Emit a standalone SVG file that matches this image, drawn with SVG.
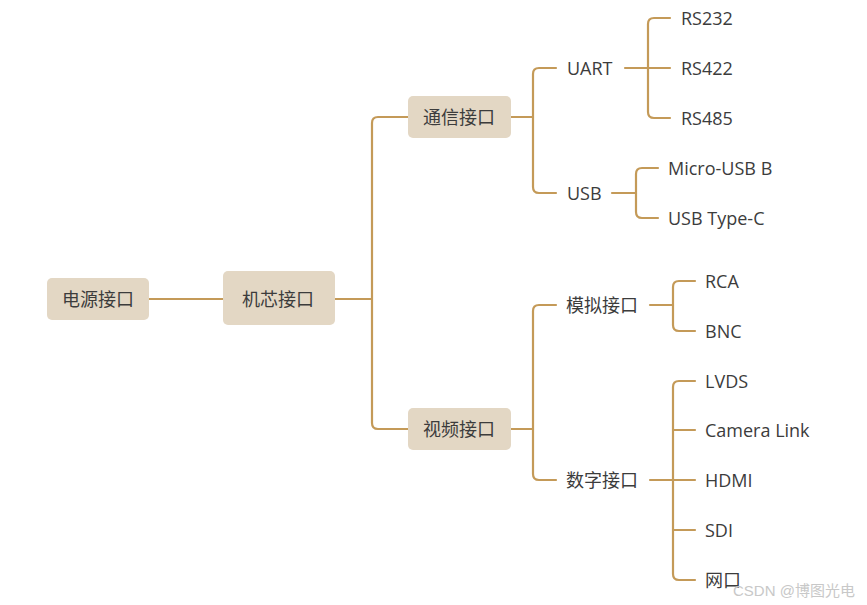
<svg xmlns="http://www.w3.org/2000/svg" width="867" height="605" viewBox="0 0 867 605">
<style>
.box{fill:#E3D7C4}
.ln{fill:none;stroke:#C49A58;stroke-width:2.2;stroke-linecap:round;stroke-linejoin:round}
.t{font-family:"Open Sans","Noto Sans CJK SC",sans-serif;font-size:18px;fill:#3C3C3C}
.cn{font-family:"Noto Sans CJK SC","Open Sans",sans-serif;font-size:18px;fill:#3C3C3C}
.wm{font-family:"Liberation Sans","Noto Sans CJK SC",sans-serif;font-size:15px;fill:#C8C8C8}
</style>
<rect width="867" height="605" fill="#fff"/>
<g id="connectors">
<path class="ln" d="M149,299 H223"/>
<path class="ln" d="M335,299 H372"/>
<path class="ln" d="M408,117 H378 Q372,117 372,123 V423 Q372,429 378,429 H408"/>
<path class="ln" d="M511,117 H533"/>
<path class="ln" d="M556,68 H539 Q533,68 533,74 V187 Q533,193 539,193 H556"/>
<path class="ln" d="M625,68 H670"/>
<path class="ln" d="M670,18 H654 Q648,18 648,24 V112 Q648,118 654,118 H670"/>
<path class="ln" d="M612,193 H636"/>
<path class="ln" d="M658,168 H642 Q636,168 636,174 V212 Q636,218 642,218 H658"/>
<path class="ln" d="M511,429 H533"/>
<path class="ln" d="M556,305 H539 Q533,305 533,311 V474 Q533,480 539,480 H556"/>
<path class="ln" d="M650,305 H673"/>
<path class="ln" d="M695,281 H679 Q673,281 673,287 V325 Q673,331 679,331 H695"/>
<path class="ln" d="M650,480 H695"/>
<path class="ln" d="M695,381 H679 Q673,381 673,387 V574 Q673,580 679,580 H695"/>
<path class="ln" d="M673,430 H695 M673,530 H695"/>
</g>
<g id="n-power"><rect class="box" x="47" y="278" width="102" height="42" rx="5"/><text class="cn" x="62" y="306">电源接口</text></g>
<g id="n-core"><rect class="box" x="223" y="271" width="112" height="54" rx="5"/><text class="cn" x="242" y="306">机芯接口</text></g>
<g id="n-comm"><rect class="box" x="408" y="96" width="103" height="42" rx="5"/><text class="cn" x="423" y="124">通信接口</text></g>
<g id="n-video"><rect class="box" x="408" y="408" width="103" height="42" rx="5"/><text class="cn" x="423" y="436">视频接口</text></g>
<g id="n-uart"><text class="t" x="567" y="75">UART</text></g>
<g id="n-usb"><text class="t" x="567" y="200">USB</text></g>
<g id="n-rs232"><text class="t" x="681" y="25">RS232</text></g>
<g id="n-rs422"><text class="t" x="681" y="75">RS422</text></g>
<g id="n-rs485"><text class="t" x="681" y="125">RS485</text></g>
<g id="n-microusb"><text class="t" x="668" y="175">Micro-USB B</text></g>
<g id="n-typec"><text class="t" x="668" y="225">USB Type-C</text></g>
<g id="n-analog"><text class="cn" x="566" y="312">模拟接口</text></g>
<g id="n-digital"><text class="cn" x="566" y="487">数字接口</text></g>
<g id="n-rca"><text class="t" x="705" y="288">RCA</text></g>
<g id="n-bnc"><text class="t" x="705" y="338">BNC</text></g>
<g id="n-lvds"><text class="t" x="705" y="388">LVDS</text></g>
<g id="n-camlink"><text class="t" x="705" y="437">Camera Link</text></g>
<g id="n-hdmi"><text class="t" x="705" y="487">HDMI</text></g>
<g id="n-sdi"><text class="t" x="705" y="537">SDI</text></g>
<g id="n-net"><text class="cn" x="705" y="587">网口</text></g>
<text class="wm" x="733" y="596">CSDN @博图光电</text>
</svg>
